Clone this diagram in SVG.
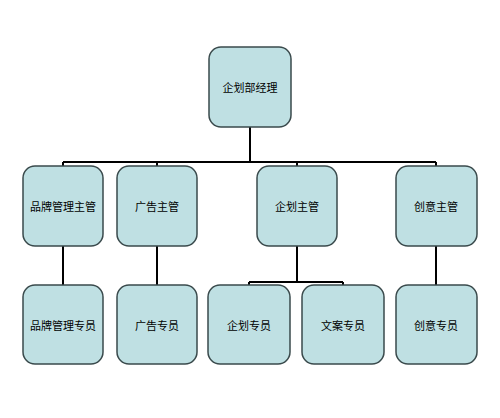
<svg xmlns="http://www.w3.org/2000/svg" width="500" height="418" viewBox="0 0 500 418">
<style>
.n{fill:#bfe0e3;stroke:#3a4a4c;stroke-width:1.5}
.t{font-family:"Noto Sans CJK SC","Liberation Sans",sans-serif;font-size:11px;fill:#000;text-anchor:middle;dominant-baseline:central}
.c{fill:none;stroke:#000;stroke-width:2}
</style>
<rect width="500" height="418" fill="#fff"/>
<g id="connectors">
<path class="c" d="M250 127V162M63 162H436M63 162V166M157 162V166M297 162V166M436 162V166"/>
<path class="c" d="M63 246V285M157 246V285M436 246V285"/>
<path class="c" d="M297 246V282M249 282H343M249 282V285M343 282V285"/>
</g>
<g id="n0"><rect class="n" x="209" y="47" width="82" height="80" rx="12"/><text class="t" x="250" y="87">企划部经理</text></g>
<g id="n1"><rect class="n" x="23" y="166" width="80" height="80" rx="12"/><text class="t" x="63" y="206">品牌管理主管</text></g>
<g id="n2"><rect class="n" x="117" y="166" width="80" height="80" rx="12"/><text class="t" x="157" y="206">广告主管</text></g>
<g id="n3"><rect class="n" x="257" y="166" width="80" height="80" rx="12"/><text class="t" x="297" y="206">企划主管</text></g>
<g id="n4"><rect class="n" x="396" y="166" width="81" height="80" rx="12"/><text class="t" x="436" y="206">创意主管</text></g>
<g id="n5"><rect class="n" x="23" y="285" width="80" height="79" rx="12"/><text class="t" x="63" y="325">品牌管理专员</text></g>
<g id="n6"><rect class="n" x="117" y="285" width="80" height="79" rx="12"/><text class="t" x="157" y="325">广告专员</text></g>
<g id="n7"><rect class="n" x="208" y="285" width="82" height="79" rx="12"/><text class="t" x="249" y="325">企划专员</text></g>
<g id="n8"><rect class="n" x="302" y="285" width="82" height="79" rx="12"/><text class="t" x="343" y="325">文案专员</text></g>
<g id="n9"><rect class="n" x="396" y="285" width="81" height="79" rx="12"/><text class="t" x="436" y="325">创意专员</text></g>
</svg>
